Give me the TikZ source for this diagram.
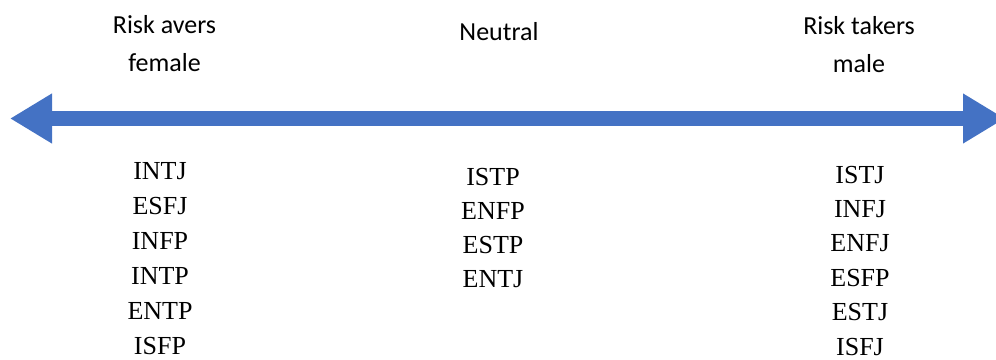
\documentclass[tikz,border=0pt]{standalone}
\usepackage{fontspec}
\setmainfont{Liberation Serif}
\newfontfamily\headfont{Carlito}
\usetikzlibrary{arrows.meta}
\definecolor{scaleblue}{HTML}{4472C4}

\begin{document}
\begin{tikzpicture}[x=1pt,y=-1pt,>=Latex,
    head/.style={font=\headfont\fontsize{26}{38}\selectfont,align=center,anchor=base,inner sep=0pt},
    item/.style={font=\fontsize{26}{30}\selectfont,anchor=base,inner sep=0pt},
    scale arrow/.style={line width=15pt,scaleblue,
      {Triangle[length=42pt,width=47pt]}-{Triangle[length=42pt,width=47pt]}}]
  \useasboundingbox (0,0) rectangle (996,359);
  % Headings (base = baseline of the last line)
  \node[head] (avers) at (164.5,71) {Risk avers\\female};
  \node[head] (neutral) at (499,40) {Neutral};
  \node[head] (takers) at (859,72) {Risk takers\\male};
  % Double arrow (right tip runs past the edge)
  \coordinate (leftend) at (10,118.5);
  \coordinate (rightend) at (1005,118.5);
  \draw[scale arrow] (leftend) -- (rightend);
  % Types under each heading
  \foreach \t [count=\i] in {INTJ,ESFJ,INFP,INTP,ENTP,ISFP}{\node[item] (avers\i) at (160,{179+35*(\i-1)}) {\t};}
  \foreach \t [count=\i] in {ISTP,ENFP,ESTP,ENTJ}{\node[item] (neutral\i) at (493,{185+34.3*(\i-1)}) {\t};}
  \foreach \t [count=\i] in {ISTJ,INFJ,ENFJ,ESFP,ESTJ,ISFJ}{\node[item] (takers\i) at (860,{183+34.4*(\i-1)}) {\t};}
\end{tikzpicture}
\end{document}
